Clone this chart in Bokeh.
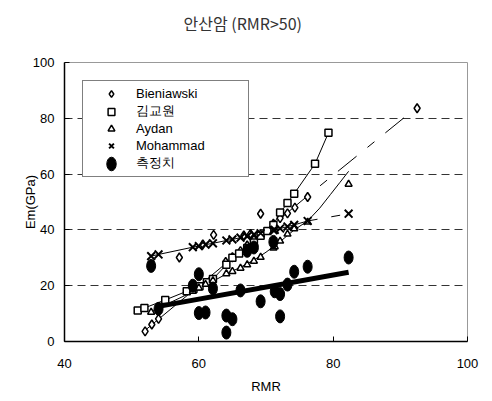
from bokeh.plotting import figure
from bokeh.models import FixedTicker, Legend, LegendItem, Range1d
from bokeh.embed import file_html
from bokeh.resources import INLINE

# ---- data ----
measured_rmr = [52.9, 54.0, 59.1, 60.0, 60.0, 61.0, 62.1, 64.1, 64.1, 65.0, 66.2,
                67.2, 68.2, 69.2, 71.1, 71.3, 72.1, 72.1, 73.2, 74.2, 76.2, 82.3]
measured_e = [27.1, 11.7, 20.0, 24.1, 10.2, 10.4, 19.0, 9.3, 3.2, 8.0, 18.3,
              32.5, 33.7, 14.4, 35.7, 18.0, 17.0, 9.0, 20.4, 25.0, 26.8, 30.1]

trend_rmr = [54.0, 82.3]
trend_e = [12.6, 24.8]

bien_rmr = [52.0, 53.0, 54.0, 57.1, 60.6, 62.2, 64.0, 65.0, 66.2, 66.7, 67.2,
            67.7, 68.2, 69.2, 69.2, 71.1, 72.1, 73.2, 74.3, 76.2, 92.5]
bien_e = [3.6, 6.1, 8.1, 30.1, 34.8, 38.2, 28.5, 30.2, 32.4, 38.0, 34.4,
          38.6, 36.4, 38.4, 45.8, 42.2, 44.2, 45.9, 48.0, 51.8, 83.6]
bien_fit_rmr = [52.0, 76.2, 92.5]
bien_fit_e = [4.0, 52.2, 84.0]

kim_rmr = [50.9, 51.9, 55.0, 58.2, 59.2, 60.1, 61.2, 62.1, 64.1, 65.0, 66.0,
           67.2, 68.2, 69.2, 70.2, 71.1, 72.1, 73.2, 74.2, 77.3, 79.3]
kim_e = [11.1, 12.0, 14.9, 18.0, 18.8, 19.8, 21.2, 22.4, 27.5, 30.0, 31.5,
         33.5, 35.5, 37.9, 39.6, 41.8, 46.2, 49.6, 53.0, 63.7, 74.8]

aydan_rmr = [52.9, 54.0, 59.1, 60.0, 61.0, 62.1, 64.1, 65.0, 66.2, 67.2, 68.2,
             69.2, 71.1, 71.3, 72.1, 73.2, 74.2, 76.2, 82.3]
aydan_e = [10.5, 11.8, 18.0, 19.2, 20.5, 21.8, 24.3, 25.1, 26.3, 27.5, 28.8,
           30.2, 33.5, 34.0, 36.0, 38.5, 40.4, 42.8, 56.4]
aydan_fit_rmr = [52.9, 54.0, 59.1, 62.1, 64.1, 66.2, 68.2, 70.0, 72.1, 74.2,
                 76.2, 78.0, 79.6, 81.0, 82.3]
aydan_fit_e = [10.8, 12.0, 17.8, 21.6, 24.2, 26.6, 29.2, 32.0, 35.8, 40.0,
               43.2, 47.8, 52.7, 57.0, 61.0]

moh_rmr = [52.9, 54.0, 59.1, 60.0, 61.0, 62.1, 64.1, 65.0, 66.2, 67.2, 68.2,
           69.2, 71.1, 71.3, 72.1, 73.2, 74.2, 76.2, 82.3]
moh_e = [30.6, 31.2, 33.8, 34.2, 34.7, 35.2, 36.2, 36.6, 37.2, 37.7, 38.3,
         38.8, 39.9, 40.0, 40.5, 41.2, 41.8, 43.2, 45.8]

x_ticks = [40, 60, 80, 100]
y_ticks = [0, 20, 40, 60, 80, 100]
grid_ticks = [20, 40, 60, 80]

FONT = "Liberation Sans"

p = figure(width=492, height=401, x_range=Range1d(40, 100), y_range=Range1d(0, 100),
           output_backend="svg", toolbar_location=None,
           min_border_left=64, min_border_right=25, min_border_top=62, min_border_bottom=60)

# a trailing blank line lifts the title above the frame
p.title.text = "안산암 (RMR>50)\n"
p.title.text_font = "Noto Sans CJK KR"
p.title.text_font_size = "16px"
p.title.text_font_style = "normal"
p.title.text_color = "#333333"
p.title.align = "left"
p.title.offset = 119
p.title.standoff = 8

p.outline_line_color = "#999999"
p.outline_line_width = 1
p.background_fill_color = "white"
p.border_fill_color = "white"

for ax, t in ((p.xaxis, x_ticks), (p.yaxis, y_ticks)):
    ax.ticker = FixedTicker(ticks=t)
    ax.axis_line_color = "black"
    ax.axis_line_width = 1.5
    ax.major_tick_in = 5
    ax.major_tick_out = 0
    ax.major_tick_line_color = "black"
    ax.minor_tick_line_color = None
    ax.major_label_text_font = FONT
    ax.major_label_text_font_size = "13px"
    ax.major_label_text_color = "black"
    ax.axis_label_text_font = FONT
    ax.axis_label_text_font_size = "13px"
    ax.axis_label_text_font_style = "normal"
    ax.axis_label_text_color = "black"

p.xaxis.axis_label = "RMR"
p.yaxis.axis_label = "Em(GPa)"
p.xaxis.major_label_standoff = 17
p.xaxis.axis_label_standoff = 8
p.yaxis.major_label_standoff = 10
p.yaxis.axis_label_standoff = -8

p.xgrid.visible = False
p.ygrid.ticker = FixedTicker(ticks=grid_ticks)
p.ygrid.grid_line_color = "#333333"
p.ygrid.grid_line_dash = "8 5"
p.ygrid.grid_line_width = 1

# ---- lines ----
p.line(bien_fit_rmr[:2], bien_fit_e[:2], line_color="black", line_width=1)
p.line(bien_fit_rmr[1:], bien_fit_e[1:], line_color="black", line_width=1,
       line_dash="24 14 9 14", line_dash_offset=22)
p.line(kim_rmr, kim_e, line_color="black", line_width=1)
p.line(aydan_fit_rmr, aydan_fit_e, line_color="black", line_width=1)
p.line(moh_rmr[:-1], moh_e[:-1], line_color="black", line_width=1)
p.line(moh_rmr[-2:], moh_e[-2:], line_color="black", line_width=1,
       line_dash="24 14 9 14", line_dash_offset=14)

# ---- markers ----
r_bien = p.scatter(bien_rmr, bien_e, marker="diamond", size=9, fill_color="white",
                   line_color="black", line_width=1.5)
r_kim = p.scatter(kim_rmr, kim_e, marker="square", size=7, fill_color="white",
                  line_color="black", line_width=1.5)
r_ayd = p.scatter(aydan_rmr, aydan_e, marker="triangle", size=7, fill_color="white",
                  line_color="black", line_width=1.5)
r_moh = p.scatter(moh_rmr, moh_e, marker="x", size=11, line_color="black", line_width=2)
r_meas = p.ellipse(measured_rmr, measured_e, width=9, height=13, width_units="screen",
                   height_units="screen", fill_color="black", line_color="black")
p.line(trend_rmr, trend_e, line_color="black", line_width=5)

legend = Legend(items=[
    LegendItem(label="Bieniawski", renderers=[r_bien]),
    LegendItem(label="김교원", renderers=[r_kim]),
    LegendItem(label="Aydan", renderers=[r_ayd]),
    LegendItem(label="Mohammad", renderers=[r_moh]),
    LegendItem(label="측정치", renderers=[r_meas]),
], location="top_left")
legend.margin = 18
legend.padding = 4
legend.spacing = 0
legend.glyph_width = 48
legend.glyph_height = 17
legend.label_height = 17
legend.label_width = 108
legend.label_standoff = 1
legend.label_text_font = FONT
legend.label_text_font_size = "13px"
legend.label_text_color = "black"
legend.border_line_color = "black"
legend.border_line_width = 1
legend.background_fill_color = "white"
legend.background_fill_alpha = 1
p.add_layout(legend, "center")

open("out.html", "w").write(file_html(p, INLINE))
